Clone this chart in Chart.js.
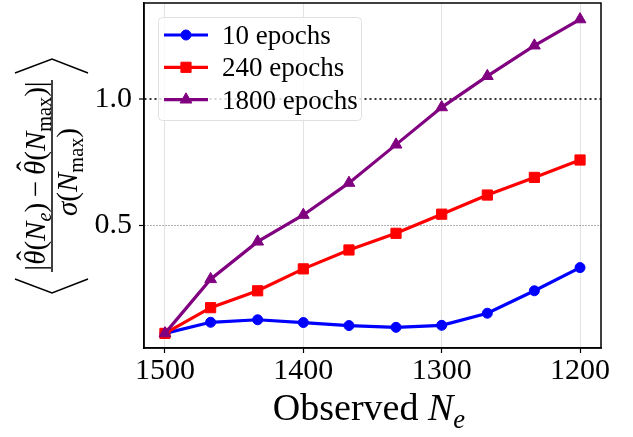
<!DOCTYPE html>
<html>
<head>
<meta charset="utf-8">
<script src="https://cdn.jsdelivr.net/npm/chart.js@4/dist/chart.umd.min.js"></script>
<style>
  html, body { margin: 0; padding: 0; background: #fff; }
  #wrap { width: 633px; height: 437px; }
</style>
</head>
<body>
<div id="wrap"><canvas id="chart" width="633" height="437"></canvas></div>
<script>
'use strict';

// observed N_e (x axis, reversed)
var epochsX = [1500, 1467, 1433, 1400, 1367, 1333, 1300, 1267, 1233, 1200];
// series values
var ep10 = [0.071, 0.115, 0.125, 0.114, 0.102, 0.095, 0.103, 0.151, 0.240, 0.332];
var ep240 = [0.071, 0.173, 0.240, 0.327, 0.402, 0.468, 0.544, 0.620, 0.690, 0.759];
var ep1800 = [0.071, 0.286, 0.435, 0.541, 0.668, 0.820, 0.968, 1.092, 1.213, 1.317];
var seriesNames = ['10 epochs', '240 epochs', '1800 epochs'];
var xTicks = [1500, 1400, 1300, 1200];
var yTicks = [0.5, 1.0];

var SERIF = '"Liberation Serif", "DejaVu Serif", serif';

function pts(ys) {
  return ys.map(function (y, i) { return { x: epochsX[i], y: y }; });
}

// draw a row of text runs: [text, italic, subscript, hat]
function runsWidth(ctx, runs, size) {
  var w = 0;
  runs.forEach(function (r) {
    var s = r[2] ? size * 0.7 : size;
    ctx.font = (r[1] ? 'italic ' : '') + s + 'px ' + SERIF;
    w += ctx.measureText(r[0]).width;
  });
  return w;
}
function drawRuns(ctx, runs, x, y, size) {
  var cur = x;
  runs.forEach(function (r) {
    var s = r[2] ? size * 0.7 : size;
    var dy = r[2] ? size * 0.22 : 0;
    ctx.font = (r[1] ? 'italic ' : '') + s + 'px ' + SERIF;
    var w = ctx.measureText(r[0]).width;
    ctx.fillText(r[0], cur, y + dy);
    if (r[3]) {
      ctx.font = s + 'px ' + SERIF;
      var hw = ctx.measureText('\u02C6').width;
      ctx.fillText('\u02C6', cur + w / 2 - hw / 2 + s * 0.06, y - s * 0.28);
    }
    cur += w;
  });
}

var framePlugin = {
  id: 'frame',
  afterDraw: function (chart) {
    var ctx = chart.ctx, a = chart.chartArea;
    ctx.save();
    ctx.strokeStyle = '#000';
    ctx.lineWidth = 1.5;
    ctx.strokeRect(a.left, a.top, a.right - a.left, a.bottom - a.top);
    ctx.restore();
  }
};

var titlesPlugin = {
  id: 'titles',
  afterDraw: function (chart) {
    var ctx = chart.ctx;
    ctx.save();
    ctx.fillStyle = '#000';
    ctx.textBaseline = 'alphabetic';
    ctx.textAlign = 'left';

    // x axis title
    var xr = [['Observed ', false, false], ['N', true, false], ['e', true, true]];
    var xs = 38;
    var xw = runsWidth(ctx, xr, xs);
    drawRuns(ctx, xr, 369 - xw / 2, 420, xs);

    // y axis title, rotated fraction in angle brackets
    var cx = 52, cy = 176;
    ctx.translate(cx, cy);
    ctx.rotate(-Math.PI / 2);
    var fs = 29;
    var num = [['|', false, false], ['\u03B8', true, false, true], ['(', false, false], ['N', true, false],
      ['e', true, true], [')', false, false], ['\u2009\u2212\u2009', false, false], ['\u03B8', true, false, true],
      ['(', false, false], ['N', true, false], ['max', false, true], [')', false, false], ['|', false, false]];
    var den = [['\u03C3', true, false], ['(', false, false], ['N', true, false], ['max', false, true], [')', false, false]];
    var nw = runsWidth(ctx, num, fs);
    drawRuns(ctx, num, -nw / 2, -7, fs);
    var dw = runsWidth(ctx, den, fs);
    drawRuns(ctx, den, -dw / 2 + 4, 25, fs);
    ctx.strokeStyle = '#000';
    ctx.lineWidth = 1.5;
    ctx.beginPath();
    ctx.moveTo(-96, 0);
    ctx.lineTo(96, 0);
    ctx.stroke();
    // angle brackets
    ctx.beginPath();
    ctx.moveTo(-103, -37);
    ctx.lineTo(-117, 0);
    ctx.lineTo(-103, 36);
    ctx.moveTo(103, -37);
    ctx.lineTo(117, 0);
    ctx.lineTo(103, 36);
    ctx.stroke();
    ctx.restore();
  }
};

var legendPlugin = {
  id: 'boxLegend',
  afterDraw: function (chart) {
    var ctx = chart.ctx;
    var x0 = 158, y0 = 17, w = 203, h = 103;
    ctx.save();
    ctx.beginPath();
    ctx.roundRect(x0 + 0.5, y0 + 0.5, w, h, 4);
    ctx.fillStyle = 'rgba(255,255,255,0.8)';
    ctx.fill();
    ctx.strokeStyle = '#e0e0e0';
    ctx.lineWidth = 1;
    ctx.stroke();
    chart.data.datasets.forEach(function (ds, i) {
      var y = 35 + i * 32.3;
      ctx.strokeStyle = ds.borderColor;
      ctx.lineWidth = ds.borderWidth;
      ctx.beginPath();
      ctx.moveTo(164, y);
      ctx.lineTo(208, y);
      ctx.stroke();
      ctx.fillStyle = ds.pointBackgroundColor;
      ctx.strokeStyle = ds.pointBorderColor;
      ctx.lineWidth = 1;
      Chart.helpers.drawPoint(ctx, { pointStyle: ds.pointStyle, radius: ds.pointRadius, rotation: 0, borderWidth: 1 }, 186, y);
      ctx.fillStyle = '#000';
      ctx.font = '27px ' + SERIF;
      ctx.textBaseline = 'alphabetic';
      ctx.fillText(ds.label, 222, y + 9);
    });
    ctx.restore();
  }
};

function mkSet(label, ys, color, style, radius, order) {
  return {
    label: label,
    data: pts(ys),
    borderColor: color,
    backgroundColor: color,
    pointBackgroundColor: color,
    pointBorderColor: color,
    borderWidth: 3.2,
    pointStyle: style,
    pointRadius: radius,
    pointBorderWidth: 1,
    tension: 0,
    order: order
  };
}

function noPad(s) {
  s.paddingTop = 0;
  s.paddingBottom = 0;
  s.paddingLeft = 0;
  s.paddingRight = 0;
}

var ctx = document.getElementById('chart');
new Chart(ctx, {
  type: 'line',
  data: {
    datasets: [
      mkSet(seriesNames[0], ep10, '#0000ff', 'circle', 5, 3),
      mkSet(seriesNames[1], ep240, '#ff0000', 'rect', 7.2, 2),
      mkSet(seriesNames[2], ep1800, '#800080', 'triangle', 6.8, 1)
    ]
  },
  options: {
    responsive: false,
    animation: false,
    layout: { autoPadding: false, padding: { left: 0, top: 3, right: 32, bottom: 0 } },
    plugins: { legend: { display: false }, tooltip: { enabled: false } },
    scales: {
      x: {
        type: 'linear',
        reverse: true,
        min: 1184.85,
        max: 1515.15,
        afterBuildTicks: function (s) { s.ticks = xTicks.map(function (v) { return { value: v }; }); },
        afterFit: function (s) { s.height = 89; noPad(s); },
        ticks: {
          autoSkip: false,
          maxRotation: 0,
          padding: 0,
          color: '#000',
          font: { family: SERIF, size: 30 },
          callback: function (v) { return String(v); }
        },
        grid: { color: '#e3e3e3', lineWidth: 1, tickColor: '#000', tickLength: 5, tickWidth: 1.2 },
        border: { color: '#000', width: 1.5 }
      },
      y: {
        min: 0.013,
        max: 1.382,
        afterBuildTicks: function (s) { s.ticks = yTicks.map(function (v) { return { value: v }; }); },
        afterFit: function (s) { s.width = 144; noPad(s); },
        ticks: {
          padding: 7,
          color: '#000',
          font: { family: SERIF, size: 30 },
          callback: function (v) { return v.toFixed(1); }
        },
        grid: {
          color: function (c) { return c.tick && c.tick.value === 1 ? '#333' : '#666'; },
          lineWidth: function (c) { return c.tick && c.tick.value === 1 ? 2 : 1; },
          tickColor: '#000',
          tickLength: 5,
          tickWidth: 1.2,
          tickBorderDash: []
        },
        border: {
          color: '#000',
          width: 1.5,
          dash: function (c) { return c.tick && c.tick.value === 1 ? [2, 3] : [1, 2]; }
        }
      }
    }
  },
  plugins: [framePlugin, titlesPlugin, legendPlugin]
});
</script>
</body>
</html>
